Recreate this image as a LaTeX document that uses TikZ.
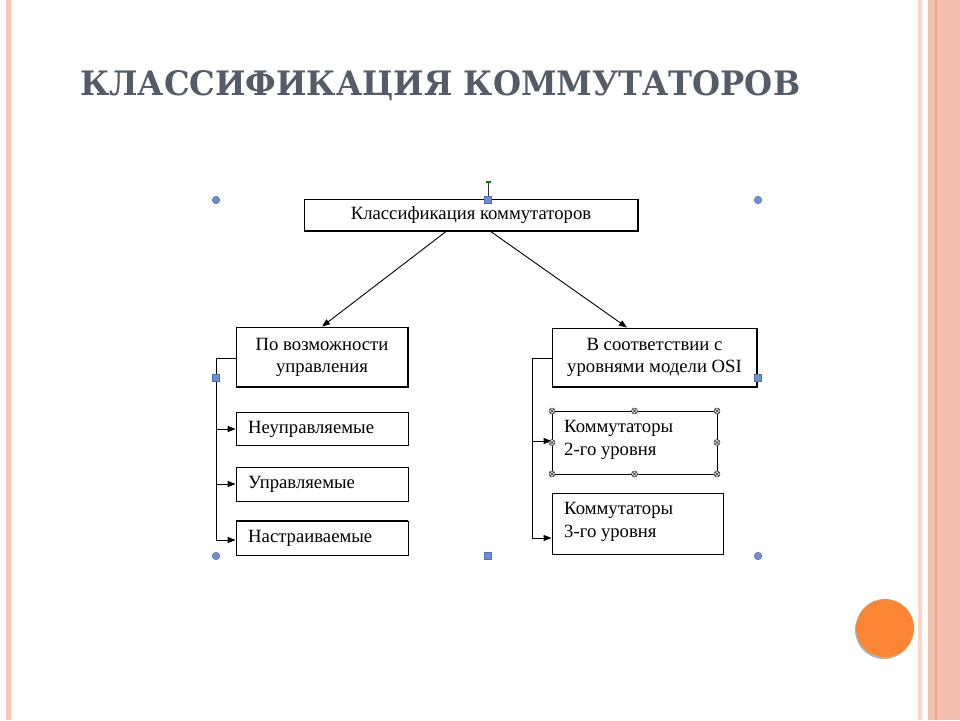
\documentclass[tikz,border=0pt]{standalone}
\usepackage{fontspec}
\setmainfont{Liberation Serif}
\newfontfamily\titlefont{DejaVu Serif}
\usetikzlibrary{arrows.meta}
\definecolor{titlegray}{HTML}{555C68}
\definecolor{stripelight}{HTML}{FCD4C5}
\definecolor{stripepink}{HTML}{F3C0AF}
\definecolor{stripedark}{HTML}{EEA386}
\definecolor{leftstripe}{HTML}{FBC8B7}
\definecolor{orangeball}{HTML}{FA8533}
\definecolor{handleblue}{HTML}{6F8FD2}
\definecolor{handleedge}{HTML}{4D6EB3}
\tikzset{
  box/.style={draw=black, line width=0.9pt, fill=white, inner sep=0pt, font=\fontsize{18.7}{22}\selectfont},
  conn/.style={line width=0.9pt, -{Triangle[length=8pt,width=6pt]}},
  plain/.style={line width=0.9pt},
  thickedge/.style={line width=2pt},
  lbl/.style={anchor=west, align=left, inner sep=0pt, font=\fontsize{18.7}{23}\selectfont},
  hround/.style={circle, fill=handleblue, draw=handleedge, line width=0.5pt, minimum size=7.5pt, inner sep=0pt},
  hsquare/.style={rectangle, fill=handleblue, draw=handleedge, line width=0.5pt, minimum size=7pt, inner sep=0pt},
  hcross/.style={circle, fill=gray!25, draw=gray!40!black, line width=0.5pt, minimum size=6pt, inner sep=0pt,
    path picture={\draw[gray!40!black, line width=0.4pt] (path picture bounding box.north west) -- (path picture bounding box.south east) (path picture bounding box.north east) -- (path picture bounding box.south west);}}
}
\begin{document}
\begin{tikzpicture}[x=1pt,y=-1pt]
\useasboundingbox (0,0) rectangle (960,720);
\fill[white] (0,0) rectangle (960,720);
% decorative stripes
\fill[leftstripe] (6,0) rectangle (11,720);
\fill[stripelight] (918,0) rectangle (922,720);
\fill[stripepink] (928,0) rectangle (960,720);
\fill[stripedark] (934.5,0) rectangle (937,720);
% orange ball
\fill[gray!60] (884,630) circle (29);
\fill[orangeball] (885,628) circle (29);
% title
\node[anchor=base west, inner sep=0pt, text=titlegray, font=\titlefont\bfseries] (title) at (80,95.5) {\resizebox{720pt}{25pt}{КЛАССИФИКАЦИЯ КОММУТАТОРОВ}};

% boxes
\node[box, minimum width=334pt, minimum height=32pt] (root) at (471,215) {Классификация коммутаторов};
\node[box, minimum width=172pt, minimum height=60pt, align=center] (left) at (322,357) {По возможности\\управления};
\node[box, minimum width=205pt, minimum height=59pt, align=center] (right) at (654.5,357.5) {В соответствии с\\уровнями модели OSI};
\node[box, minimum width=172pt, minimum height=33pt] (n1) at (322,428.5) {};
\node[box, minimum width=172pt, minimum height=34pt] (n2) at (322,484) {};
\node[box, minimum width=172pt, minimum height=34pt] (n3) at (322,538) {};
\node[lbl] (t1) at (248,429) {Неуправляемые};
\node[lbl] (t2) at (248,484) {Управляемые};
\node[lbl] (t3) at (248,538) {Настраиваемые};
\node[box, minimum width=165pt, minimum height=63pt] (k2) at (634.5,442.5) {};
\node[box, minimum width=171pt, minimum height=61pt] (k3) at (637.5,523.5) {};
\node[lbl] (tk2) at (564,440) {Коммутаторы\\2-го уровня};
\node[lbl] (tk3) at (564,522) {Коммутаторы\\3-го уровня};

% thick shadow edges
\draw[thickedge] (root.north east) -- (root.south east) -- (root.south west);
\draw[thickedge] (left.north east) -- (left.south east) -- (left.south west);
\draw[thickedge] (right.north east) -- (right.south east) -- (right.south west);
\draw[thickedge] (n3.north west) -- (n3.north east);

% connectors from root
\coordinate (rootL) at (446.7,231);
\coordinate (rootR) at (490,231);
\draw[conn] (rootL) -- (left.north);
\draw[conn] (rootR) -- (right.north -| 627,0);

% left bracket
\coordinate (lb) at (216,358);
\coordinate (lb1) at (216,429);
\coordinate (lb2) at (216,484);
\coordinate (lb3) at (216,540);
\draw[plain] (left.west |- lb) -- (lb) -- (lb3);
\draw[conn] (lb1) -- (lb1 -| n1.west);
\draw[conn] (lb2) -- (lb2 -| n2.west);
\draw[conn] (lb3) -- (lb3 -| n3.west);

% right bracket
\coordinate (rb) at (532,358);
\coordinate (rb1) at (532,441);
\coordinate (rb2) at (532,538);
\draw[plain] (right.west |- rb) -- (rb) -- (rb2);
\draw[conn] (rb1) -- (rb1 -| k2.west);
\draw[conn] (rb2) -- (rb2 -| k3.west);

% selection handles
\node[hround] (h1) at (216,200) {};
\node[hround] (h2) at (758,200) {};
\node[hround] (h3) at (216,556) {};
\node[hround] (h4) at (758,556) {};
\node[hsquare] (h5) at (488,200) {};
\node[hsquare] (h6) at (216,378) {};
\node[hsquare] (h7) at (758,378) {};
\node[hsquare] (h8) at (488,556) {};
\coordinate (rot) at (488,182);
\draw[gray!40!black, line width=1pt] (h5.north) -- (rot);
\draw[green!50!black, line width=1.2pt] ([xshift=-2.5pt]rot) -- ([xshift=2.5pt]rot);
% box selection handles
\foreach \p/\n in {{(552,411)}/a,{(634.5,411)}/b,{(717,411)}/c,{(552,442.5)}/d,{(717,442.5)}/e,{(552,474)}/f,{(634.5,474)}/g,{(717,474)}/h}
  \node[hcross] (x\n) at \p {};
\end{tikzpicture}
\end{document}
